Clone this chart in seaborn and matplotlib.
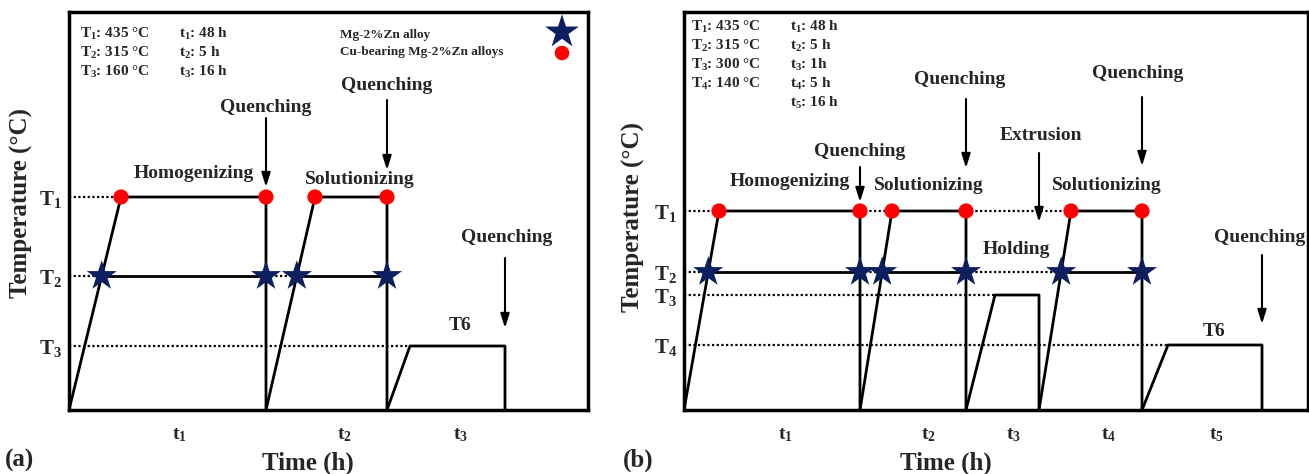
import matplotlib
matplotlib.use("Agg")
import matplotlib.pyplot as plt
import numpy as np
import pandas as pd
import seaborn as sns

# ---------------- schematic data ----------------
# Panel (a): temperature levels (schematic heights) and names
a_levels = [213, 134, 64]
a_level_names = ["T$_1$", "T$_2$", "T$_3$"]
# segments: start time, time when ramp reaches hold temp, end time, hold level idx, alt level idx
a_seg_start = [0, 197, 318]
a_seg_top = [52, 246, 341]
a_seg_end = [197, 318, 436]
a_seg_level = [0, 0, 2]
a_seg_alt = [1, 1, None]
# dotted guide spans: (level idx, from segment end (-1 = axis), to ramp of segment)
a_dots = [(0, -1, 0), (1, -1, 0), (1, 0, 1), (2, -1, 2)]
a_time_pos = [110, 275, 392]
a_time_names = ["t$_1$", "t$_2$", "t$_3$"]
a_info_T = ["T$_1$: 435 °C", "T$_2$: 315 °C", "T$_3$: 160 °C"]
a_info_t = ["t$_1$: 48 h", "t$_2$: 5 h", "t$_3$: 16 h"]

# Panel (b)
b_levels = [199, 138, 115, 65]
b_level_names = ["T$_1$", "T$_2$", "T$_3$", "T$_4$"]
b_seg_start = [0, 176, 282, 355, 458]
b_seg_top = [35, 208, 311, 387, 484]
b_seg_end = [176, 282, 355, 458, 578]
b_seg_level = [0, 0, 2, 0, 3]
b_seg_alt = [1, 1, None, 1, None]
b_dots = [(0, -1, 0), (0, 0, 1), (0, 1, 3), (1, -1, 0), (1, 0, 1), (1, 1, 3),
          (2, -1, 2), (3, -1, 4)]
b_time_pos = [101, 244, 330, 425, 532]
b_time_names = ["t$_1$", "t$_2$", "t$_3$", "t$_4$", "t$_5$"]
b_info_T = ["T$_1$: 435 °C", "T$_2$: 315 °C", "T$_3$: 300 °C", "T$_4$: 140 °C"]
b_info_t = ["t$_1$: 48 h", "t$_2$: 5 h", "t$_3$: 1h", "t$_4$: 5 h", "t$_5$: 16 h"]

STAR_C = "#0c1f5e"
RED_C = "#ff0000"

sns.set_theme(style="white")
plt.rcParams["font.family"] = ["Liberation Serif", "DejaVu Serif"]
plt.rcParams["font.weight"] = "bold"
plt.rcParams["mathtext.fontset"] = "custom"
plt.rcParams["mathtext.rm"] = "Liberation Serif:bold"
plt.rcParams["mathtext.bf"] = "Liberation Serif:bold"
plt.rcParams["mathtext.it"] = "Liberation Serif:bold"
plt.rcParams["mathtext.default"] = "bf"


def build(seg_start, seg_top, seg_end, seg_level, seg_alt, levels, dots):
    main, alt, dot = [], [], []
    stars, circles = [], []
    for i in range(len(seg_start)):
        s, t, e = seg_start[i], seg_top[i], seg_end[i]
        L = levels[seg_level[i]]
        for x, y in [(s, 0), (t, L), (e, L), (e, 0)]:
            main.append((x, y, i))
        if seg_alt[i] is not None:
            A = levels[seg_alt[i]]
            xs = s + (t - s) * A / L
            alt.append((xs, A, i))
            alt.append((e, A, i))
            stars += [(xs, A), (e, A)]
            circles += [(t, L), (e, L)]
    for k, (lvl, frm, to) in enumerate(dots):
        x0 = 0 if frm < 0 else seg_end[frm]
        L = levels[lvl]
        Ltop = levels[seg_level[to]]
        x1 = seg_start[to] + (seg_top[to] - seg_start[to]) * L / Ltop
        dot.append((x0, L, k))
        dot.append((x1, L, k))
    cols = ["x", "y", "seg"]
    return (pd.DataFrame(main, columns=cols), pd.DataFrame(alt, columns=cols),
            pd.DataFrame(dot, columns=cols),
            pd.DataFrame(stars, columns=["x", "y"]),
            pd.DataFrame(circles, columns=["x", "y"]))


def draw_panel(ax, data, levels, level_names, time_pos, time_names, xmax):
    main, alt, dot, stars, circles = data
    sns.lineplot(data=dot, x="x", y="y", units="seg", estimator=None, sort=False,
                 color="black", lw=1.6, linestyle=(0, (1, 1.1)), ax=ax, zorder=2)
    sns.lineplot(data=main, x="x", y="y", units="seg", estimator=None, sort=False,
                 color="black", lw=2.0, ax=ax, zorder=3)
    sns.lineplot(data=alt, x="x", y="y", units="seg", estimator=None, sort=False,
                 color="black", lw=2.0, ax=ax, zorder=3)
    sns.scatterplot(data=circles, x="x", y="y", marker="o", s=120, color=RED_C,
                    edgecolor="none", ax=ax, zorder=5)
    sns.scatterplot(data=stars, x="x", y="y", marker="*", s=520, color=STAR_C,
                    edgecolor="none", ax=ax, zorder=6)
    ax.set_xlim(0, xmax)
    ax.set_ylim(0, 398)
    ax.set_yticks(levels, labels=level_names)
    ax.set_xticks(time_pos, labels=time_names)
    ax.tick_params(axis="y", length=0, pad=5, labelsize=15)
    ax.tick_params(axis="x", length=0, pad=12, labelsize=14)
    for sp in ax.spines.values():
        sp.set_visible(True)
        sp.set_color("black")
        sp.set_linewidth(2.5)
    ax.grid(False)
    ax.set_xlabel("Time (h)", fontsize=18, fontweight="bold")
    ax.set_ylabel("Temperature (°C)", fontsize=18, fontweight="bold")


def arrow(ax, x, y0, y1):
    ax.annotate("", xy=(x, y1), xytext=(x, y0),
                arrowprops=dict(arrowstyle="-|>,head_length=0.7,head_width=0.22",
                                lw=1.5, color="black", mutation_scale=12,
                                shrinkA=0, shrinkB=0), zorder=4)


fig = plt.figure(figsize=(13.09, 4.74), dpi=100)
W, H = 1309, 474
axa = fig.add_axes([69 / W, 64 / H, 519 / W, 398 / H])
axb = fig.add_axes([684 / W, 64 / H, 624 / W, 398 / H])

da = build(a_seg_start, a_seg_top, a_seg_end, a_seg_level, a_seg_alt, a_levels, a_dots)
draw_panel(axa, da, a_levels, a_level_names, a_time_pos, a_time_names, 519)
db = build(b_seg_start, b_seg_top, b_seg_end, b_seg_level, b_seg_alt, b_levels, b_dots)
draw_panel(axb, db, b_levels, b_level_names, b_time_pos, b_time_names, 624)

axa.xaxis.set_label_coords(0.46, -0.105)
axb.xaxis.set_label_coords(0.42, -0.105)
axa.yaxis.set_label_coords(-0.069, 0.52)
axb.yaxis.set_label_coords(-0.063, 0.485)

kw = dict(fontsize=14, fontweight="bold", ha="center", va="center")
# ---- panel (a) annotations
for i, (tT, tt) in enumerate(zip(a_info_T, a_info_t)):
    axa.text(11, 376 - 19 * i, tT, fontsize=11, va="center", ha="left")
    axa.text(110, 376 - 19 * i, tt, fontsize=11, va="center", ha="left")
axa.text(271, 375, "Mg-2%Zn alloy", fontsize=9.5, va="center", ha="left")
axa.text(271, 358, "Cu-bearing Mg-2%Zn alloys", fontsize=9.5, va="center", ha="left")
sns.scatterplot(x=[493], y=[378], marker="*", s=650, color=STAR_C, edgecolor="none", ax=axa)
sns.scatterplot(x=[493], y=[357], marker="o", s=110, color=RED_C, edgecolor="none", ax=axa)
axa.text(197, 303, "Quenching", **kw)
arrow(axa, 197, 292, 223)
axa.text(318, 325, "Quenching", **kw)
arrow(axa, 318, 310, 240)
axa.text(125, 237, "Homogenizing", **kw)
axa.text(291, 230, "Solutionizing", **kw)
axa.text(438, 173, "Quenching", **kw)
arrow(axa, 436, 152, 82)
axa.text(391, 85, "T6", **kw)

# ---- panel (b) annotations
for i, tT in enumerate(b_info_T):
    axb.text(7, 383 - 19 * i, tT, fontsize=11, va="center", ha="left")
for i, tt in enumerate(b_info_t):
    axb.text(106, 383 - 19 * i, tt, fontsize=11, va="center", ha="left")
axb.text(176, 258, "Quenching", **kw)
arrow(axb, 176, 243, 208)
axb.text(106, 228, "Homogenizing", **kw)
axb.text(245, 225, "Solutionizing", **kw)
axb.text(276, 330, "Quenching", **kw)
arrow(axb, 282, 311, 242)
axb.text(357, 275, "Extrusion", **kw)
arrow(axb, 355, 257, 188)
axb.text(423, 225, "Solutionizing", **kw)
axb.text(454, 337, "Quenching", **kw)
arrow(axb, 458, 313, 244)
axb.text(576, 173, "Quenching", **kw)
arrow(axb, 578, 155, 86)
axb.text(332, 160, "Holding", **kw)
axb.text(530, 79, "T6", **kw)

fig.text(20 / W, 1 - 460 / H, "(a)", fontsize=18, fontweight="bold", ha="center", va="center")
fig.text(638 / W, 1 - 460 / H, "(b)", fontsize=18, fontweight="bold", ha="center", va="center")

fig.savefig("out.png", dpi=100, facecolor="white")
